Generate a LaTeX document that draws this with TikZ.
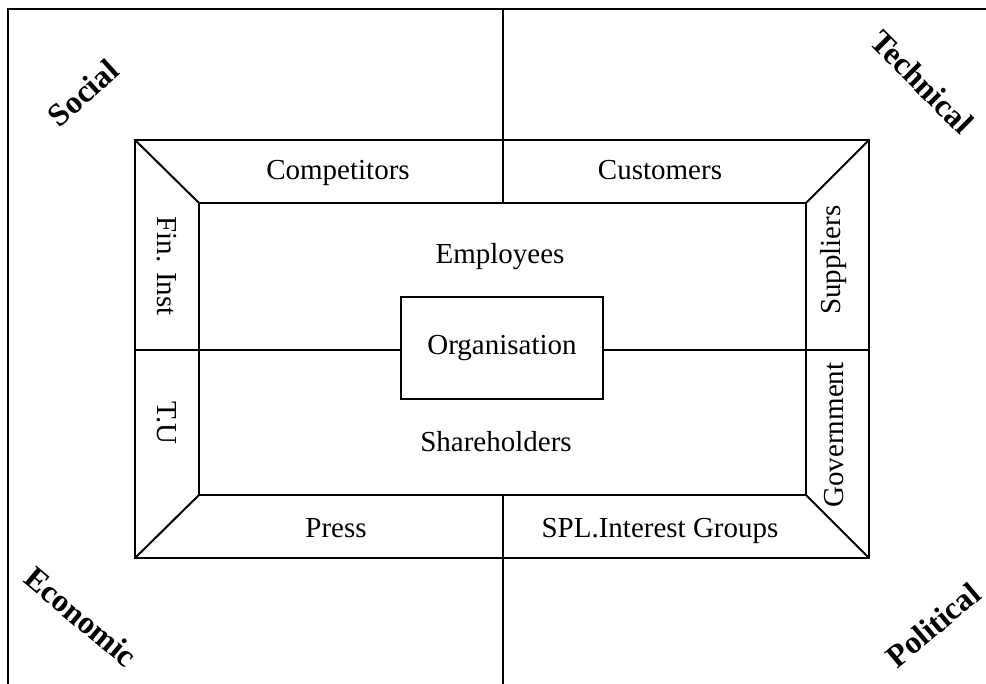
\documentclass[tikz,border=0pt]{standalone}
\usepackage{fontspec}
\setmainfont{Liberation Serif}
\begin{document}
\begin{tikzpicture}[x=1pt,y=-1pt,
  line width=2pt,
  lbl/.style={inner sep=0pt,anchor=base,font=\fontsize{29}{34}\selectfont},
  vlbl/.style={inner sep=0pt,font=\fontsize{29}{34}\selectfont},
  env/.style={inner sep=0pt,font=\bfseries\fontsize{32}{38}\selectfont},
  orgbox/.style={draw,minimum width=202pt,minimum height=102pt,inner sep=0pt,text height=20pt,text depth=6pt,font=\fontsize{29}{34}\selectfont}]
\useasboundingbox (0,0) rectangle (986,684);
% outer frame
\coordinate (tl) at (8,9.5);
\coordinate (tr) at (990,9.5);
\coordinate (bl) at (8,690);
\draw (bl) -- (tl) -- (tr);
% vertical divider
\coordinate (vtop) at (503,9.5);
\coordinate (vbot) at (503,690);
% outer box corners
\coordinate (O1) at (135,140);
\coordinate (O2) at (869,140);
\coordinate (O3) at (869,558);
\coordinate (O4) at (135,558);
% inner box corners
\coordinate (I1) at (199,203);
\coordinate (I2) at (806,203);
\coordinate (I3) at (806,495);
\coordinate (I4) at (199,495);
\draw (O1) rectangle (O3);
\draw (I1) rectangle (I3);
\draw (O1) -- (I1);
\draw (O2) -- (I2);
\draw (O3) -- (I3);
\draw (O4) -- (I4);
\coordinate (vin1) at (503,203);
\coordinate (vin2) at (503,495);
\draw (vtop) -- (vin1);
\draw (vin2) -- (vbot);
% organisation
\node[orgbox] (org) at (502,348) {Organisation};
\coordinate (hl) at (135,350);
\coordinate (hr) at (869,350);
\draw (hl) -- (org.west |- hl);
\draw (org.east |- hr) -- (hr);
% labels
\node[lbl] (comp) at (338,180) {Competitors};
\node[lbl] (cust) at (660,180) {Customers};
\node[lbl] (empl) at (500,264) {Employees};
\node[lbl] (share) at (496,452) {Shareholders};
\node[lbl] (press) at (336,537) {Press};
\node[lbl] (spl) at (660,537) {SPL.Interest Groups};
\node[vlbl,rotate=-90] (fin) at (167,266) {Fin. Inst};
\node[vlbl,rotate=-90] (tu) at (167,423) {T.U};
\node[vlbl,rotate=90] (supp) at (834,260) {Suppliers};
\node[vlbl,rotate=90] (gov) at (834,435) {Government};
% environment labels
\node[env,rotate=42] (soc) at (83,93) {Social};
\node[env,rotate=-45] (tech) at (922,82) {Technical};
\node[env,rotate=-40] (eco) at (81,617) {Economic};
\node[env,rotate=40] (pol) at (933,625) {Political};
\end{tikzpicture}
\end{document}
